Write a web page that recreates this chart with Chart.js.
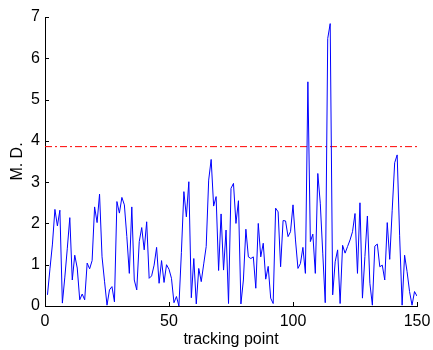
<!DOCTYPE html>
<html>
<head>
<meta charset="utf-8">
<script src="https://cdn.jsdelivr.net/npm/chart.js@4.4.0/dist/chart.umd.min.js"></script>
<style>
  html, body { margin: 0; padding: 0; background: #fff; }
  canvas { display: block; }
</style>
</head>
<body>
<canvas id="md-graph" width="433" height="350"></canvas>
<script>
// M. D. per tracking point (1..150)
const mdValues = [
    0.27, 0.9, 1.5, 2.34, 1.94, 2.32, 0.07, 0.7, 1.4, 2.14,
    0.63, 1.23, 0.92, 0.15, 0.29, 0.15, 1.04, 0.9, 1.1, 2.4,
    2.02, 2.71, 1.19, 0.6, 0.02, 0.39, 0.47, 0.1, 2.53, 2.25,
    2.63, 2.45, 1.68, 0.79, 2.4, 0.63, 0.39, 1.56, 1.9, 1.36,
    2.04, 0.67, 0.73, 0.99, 1.42, 0.55, 1.1, 0.57, 1.0, 0.89,
    0.67, 0.08, 0.23, 0.0, 1.3, 2.77, 2.16, 3.01, 0.2, 1.15,
    0.05, 0.91, 0.59, 1.02, 1.44, 3.05, 3.55, 2.42, 2.65, 0.86,
    2.23, 0.87, 1.84, 0.06, 2.85, 2.97, 2.0, 2.55, 0.05, 0.63,
    1.86, 1.19, 1.15, 1.19, 0.43, 2.0, 1.19, 1.52, 0.65, 0.96,
    0.19, 0.06, 2.37, 2.28, 0.95, 2.07, 2.06, 1.68, 1.8, 2.45,
    1.6, 0.91, 1.03, 1.42, 0.79, 5.43, 1.56, 1.74, 0.79, 3.21,
    2.49, 1.28, 0.08, 6.48, 6.84, 0.27, 1.07, 1.36, 0.06, 1.47,
    1.28, 1.44, 1.6, 1.8, 2.24, 0.79, 2.5, 0.19, 1.2, 2.18,
    0.55, 0.02, 1.45, 1.5, 0.95, 0.99, 0.63, 2.02, 1.13, 2.32,
    3.47, 3.66, 1.7, 0.02, 1.23, 0.83, 0.35, 0.02, 0.35, 0.24
];

// seuil (ligne rouge tiret-point)
const thresholdValue = 3.86;
const thresholdRange = [0, 150];

const xTicks = [0, 50, 100, 150];
const yTicks = [0, 1, 2, 3, 4, 5, 6, 7];

const fontFamily = '"Liberation Sans", Arial, Helvetica, sans-serif';

// petits traits de graduation tournés vers l'intérieur, style MATLAB
const inwardTicks = {
    id: 'inwardTicks',
    afterDraw(chart) {
        const { ctx, chartArea, scales } = chart;
        ctx.save();
        ctx.strokeStyle = '#000';
        ctx.lineWidth = 1;
        ctx.beginPath();
        xTicks.forEach(v => {
            const px = Math.round(scales.x.getPixelForValue(v)) + 0.5;
            ctx.moveTo(px, chartArea.bottom);
            ctx.lineTo(px, chartArea.bottom - 4);
        });
        yTicks.forEach(v => {
            const py = Math.round(scales.y.getPixelForValue(v)) + 0.5;
            ctx.moveTo(chartArea.left, py);
            ctx.lineTo(chartArea.left + 4, py);
        });
        ctx.stroke();
        ctx.restore();
    }
};

const ctx = document.getElementById('md-graph');

new Chart(ctx, {
    type: 'line',
    data: {
        datasets: [
            {
                label: 'M. D.',
                data: mdValues.map((v, i) => ({ x: i + 1, y: v })),
                borderColor: '#0000ff',
                borderWidth: 1,
                pointRadius: 0,
                tension: 0,
                fill: false
            },
            {
                label: 'seuil',
                data: thresholdRange.map(x => ({ x: x, y: thresholdValue })),
                borderColor: '#ff0000',
                borderWidth: 1,
                borderDash: [7, 3, 2, 3],
                pointRadius: 0,
                fill: false
            }
        ]
    },
    options: {
        responsive: false,
        animation: false,
        layout: { padding: { top: 17, right: 16, left: 0, bottom: 0 } },
        plugins: {
            legend: { display: false },
            tooltip: { enabled: false }
        },
        scales: {
            x: {
                type: 'linear',
                min: 0,
                max: 150,
                // hauteur fixe, et on ne laisse pas le label "150" rétrécir la zone
                afterFit: s => { s.height = 44; s.paddingRight = 0; s.paddingLeft = 0; },
                afterBuildTicks: s => { s.ticks = xTicks.map(v => ({ value: v })); },
                grid: { display: false, drawTicks: false },
                border: { display: true, color: '#000', width: 1 },
                ticks: {
                    color: '#000',
                    padding: 6,
                    maxRotation: 0,
                    font: { family: fontFamily, size: 16 }
                },
                title: {
                    display: true,
                    text: 'tracking point',
                    color: '#000',
                    padding: { bottom: 1, top: 0 },
                    font: { family: fontFamily, size: 16 }
                }
            },
            y: {
                min: 0,
                max: 7,
                afterFit: s => { s.width = 45; },
                afterBuildTicks: s => { s.ticks = yTicks.map(v => ({ value: v })); },
                grid: { display: false, drawTicks: false },
                border: { display: true, color: '#000', width: 1 },
                ticks: {
                    color: '#000',
                    padding: 5,
                    font: { family: fontFamily, size: 16 }
                },
                title: {
                    display: true,
                    text: 'M. D.',
                    color: '#000',
                    padding: { top: 8, bottom: 0 },
                    font: { family: fontFamily, size: 16 }
                }
            }
        }
    },
    plugins: [inwardTicks]
});
</script>
</body>
</html>
